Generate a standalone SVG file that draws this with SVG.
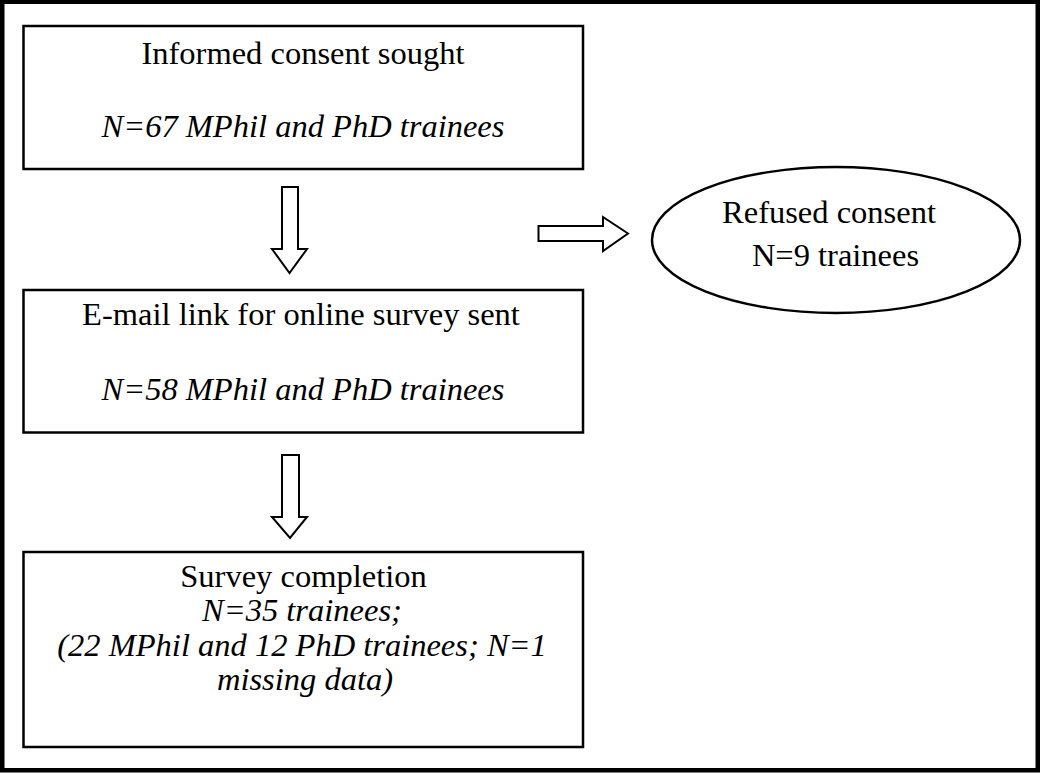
<svg xmlns="http://www.w3.org/2000/svg" width="1040" height="774" viewBox="0 0 1040 774">
<style>
.box{fill:#fff;stroke:#000;stroke-width:2.5}
.arr{fill:#fff;stroke:#000;stroke-width:2;stroke-linejoin:miter}
text{font-family:"Liberation Serif","Times New Roman",serif;font-size:32.5px;fill:#000;text-anchor:middle}
.it{font-style:italic}
</style>
<rect x="0" y="0" width="1040" height="774" fill="#fff"/>
<rect x="2.25" y="1.75" width="1035.5" height="768.5" fill="none" stroke="#000" stroke-width="4.5"/>
<g id="node-consent">
<rect class="box" x="23.5" y="26" width="559.5" height="143"/>
<text x="303" y="64">Informed consent sought</text>
<text class="it" x="303" y="137">N=67 MPhil and PhD trainees</text>
</g>
<g id="node-email">
<rect class="box" x="23.5" y="290" width="559.5" height="142.5"/>
<text x="301" y="325">E-mail link for online survey sent</text>
<text class="it" x="303" y="400">N=58 MPhil and PhD trainees</text>
</g>
<g id="node-completion">
<rect class="box" x="23.5" y="552" width="559.5" height="195"/>
<text x="303.5" y="587">Survey completion</text>
<text class="it" x="302" y="621">N=35 trainees;</text>
<text class="it" x="302" y="656">(22 MPhil and 12 PhD trainees; N=1</text>
<text class="it" x="305" y="690">missing data)</text>
</g>
<g id="node-refused">
<ellipse class="box" cx="836" cy="240" rx="184" ry="73"/>
<text x="829" y="223">Refused consent</text>
<text x="835.5" y="266">N=9 trainees</text>
</g>
<g id="connectors">
<path class="arr" d="M282,187 H298 V249 H307 L289.5,273 L272,249 H282 Z"/>
<path class="arr" d="M282,455 H299 V517 H307 L290,538 L272,517 H282 Z"/>
<path class="arr" d="M538.5,226 H603 V217 L628,233.5 L603,251 V241 H538.5 Z"/>
</g>
</svg>
